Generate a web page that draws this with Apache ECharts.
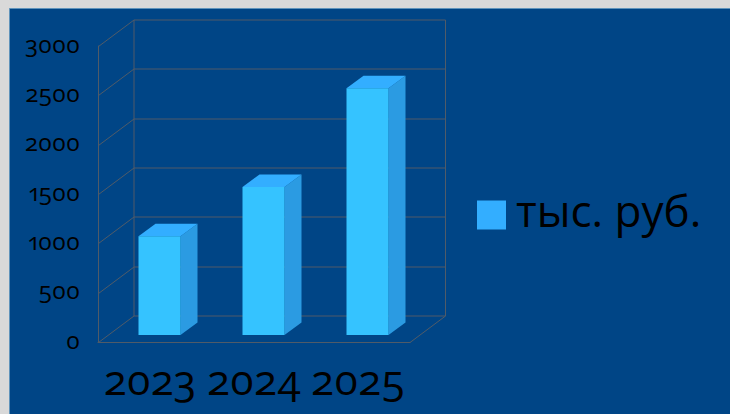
<!DOCTYPE html>
<html><head><meta charset="utf-8">
<style>
html,body{margin:0;padding:0;background:#d9d9d9}
#c{width:730px;height:414px}
text{font-feature-settings:"onum" 1,"pnum" 1;font-variant-numeric:oldstyle-nums proportional-nums}
</style>
<script src="https://cdn.jsdelivr.net/npm/echarts@6/dist/echarts.min.js"></script>
</head><body><div id="c"></div>
<script>
const categories = ['2023', '2024', '2025'];
const seriesName = 'тыс. руб.';
const values = [1000, 1500, 2500];
const yTicks = [0, 500, 1000, 1500, 2000, 2500, 3000];

const FONT = '"Open Sans"';
const WALL = '#505b68';
const DX = 35.5, DY = -26.5;      // depth of the box
const BAR_W = 42, BAR_SHIFT = 9.5, BAR_LIFT = -7, BAR_DX = 17, BAR_DY = -12.5;

const chart = echarts.init(document.getElementById('c'), null, {renderer: 'svg'});

function line(x1, y1, x2, y2) {
  return {type: 'line', shape: {x1, y1, x2, y2}, style: {stroke: WALL, lineWidth: 1}, silent: true};
}
function renderWall(params, api) {
  const cs = params.coordSys;
  const y = Math.round(api.coord([0, api.value(1)])[1]) + 0.5;
  const L = cs.x + 0.5, R = cs.x + cs.width;
  const kids = [
    line(L, y, L + DX, y + DY),
    line(L + DX, y + DY, R + DX, y + DY)
  ];
  if (api.value(1) === 0) {
    const top = Math.round(cs.y) + 0.5;
    kids.push(line(L + DX, y + DY, L + DX, top + DY));
    kids.push(line(R + DX, y + DY, R + DX, top + DY));
    kids.push(line(R, y, R + DX, y + DY));
  }
  return {type: 'group', children: kids};
}
function renderBar(params, api) {
  const top = api.coord([api.value(0), api.value(1)]);
  const base = api.coord([api.value(0), 0]);
  const x0 = top[0] + BAR_SHIFT - BAR_W / 2, x1 = x0 + BAR_W;
  const y0 = top[1] + BAR_LIFT, y1 = base[1] + BAR_LIFT;
  const poly = (pts, fill) => ({type: 'polygon', shape: {points: pts}, style: {fill: fill}});
  return {type: 'group', children: [
    poly([[x1, y0], [x1 + BAR_DX, y0 + BAR_DY], [x1 + BAR_DX, y1 + BAR_DY], [x1, y1]], '#2b9be2'),
    poly([[x0, y0], [x0 + BAR_DX, y0 + BAR_DY], [x1 + BAR_DX, y0 + BAR_DY], [x1, y0]], '#33aeff'),
    poly([[x0, y0], [x1, y0], [x1, y1], [x0, y1]], '#35c3ff')
  ]};
}

chart.setOption({
  animation: false,
  backgroundColor: '#d9d9d9',
  graphic: [{
    type: 'rect', z: -10, silent: true,
    shape: {x: 9.5, y: 8.5, width: 730, height: 414},
    style: {fill: '#004586', stroke: '#5f93bb', lineWidth: 1}
  }],
  grid: {left: 98, right: 320, top: 46, bottom: 72, containLabel: false},
  legend: {
    left: 472, top: 183, orient: 'vertical',
    data: [{name: seriesName, icon: 'rect'}],
    itemWidth: 29, itemHeight: 29, itemGap: 0,
    formatter: '{a|{name}}',
    textStyle: {
      fontFamily: FONT, fontSize: 44, color: '#000',
      rich: {a: {fontFamily: FONT, fontSize: 44, color: '#000', padding: [0, 0, 10, 5]}}
    }
  },
  xAxis: {
    type: 'category', data: categories,
    axisLine: {show: true, lineStyle: {color: WALL, width: 1}},
    axisTick: {show: false},
    axisLabel: {fontFamily: FONT, fontSize: 42, color: '#000', margin: 15, interval: 0}
  },
  yAxis: {
    type: 'value', min: 0, max: 3000, interval: 500,
    axisLine: {show: true, lineStyle: {color: WALL, width: 1}},
    axisTick: {show: false},
    splitLine: {show: false},
    axisLabel: {fontFamily: FONT, fontSize: 24, color: '#000', margin: 18,
      verticalAlign: 'bottom', lineHeight: 6, formatter: v => String(v)}
  },
  series: [
    {
      type: 'custom', name: 'walls', z: 1, silent: true, clip: false,
      renderItem: renderWall,
      data: yTicks.map(t => [0, t]),
      encode: {x: 0, y: 1}
    },
    {
      type: 'custom', name: seriesName, z: 3, clip: false,
      renderItem: renderBar,
      itemStyle: {color: '#33aeff'},
      data: values.map((v, i) => [i, v]),
      encode: {x: 0, y: 1}
    }
  ]
});
</script></body></html>
